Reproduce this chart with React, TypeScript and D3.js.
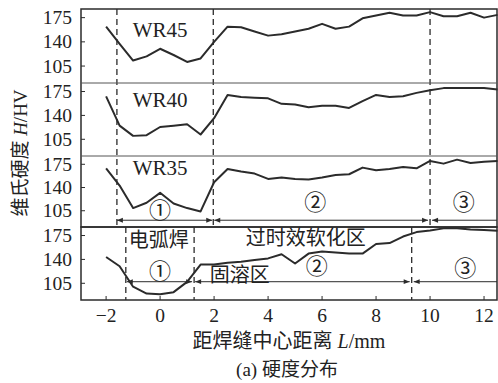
import React from 'react';
import * as d3 from 'd3';

// distance from weld centre, mm
const distance = [-2, -1.5, -1, -0.5, 0, 0.5, 1, 1.5, 2, 2.5, 3, 3.5, 4, 4.5, 5, 5.5, 6, 6.5, 7, 7.5, 8, 8.5, 9, 9.5, 10, 10.5, 11, 11.5, 12, 12.5];

// Vickers hardness, HV
const wr45 = [162, 137, 113, 119, 130, 121, 111, 116, 140, 162, 161, 155, 149, 151, 155, 159, 166, 159, 162, 174, 178, 182, 178, 178, 183, 177, 177, 182, 175, 179];
const wr40 = [168, 125, 110, 111, 123, 125, 127, 112, 136, 170, 167, 166, 165, 157, 156, 152, 154, 154, 151, 161, 170, 167, 168, 173, 177, 180, 180, 180, 180, 178];
const wr35 = [169, 143, 109, 117, 132, 116, 109, 104, 148, 168, 164, 161, 153, 155, 153, 152, 155, 159, 160, 170, 166, 168, 171, 169, 180, 176, 182, 177, 179, 180];
const arcWeld = [143.5, 130, 100, 90, 89, 92, 107, 132.5, 132.5, 135, 136.5, 139, 141.5, 147.5, 134, 148.5, 151.5, 150, 148.5, 148.5, 162.5, 164, 173.5, 180, 182.5, 185.5, 185.5, 184, 183, 182];

const seriesNames = ['WR45', 'WR40', 'WR35'];
const zoneLimitsTop = [-1.6, 1.97, 10];
const zoneLimitsBottom = [-1.27, 1.26, 9.32];

const xTicks = [-2, 0, 2, 4, 6, 8, 10, 12];
const yTicks = [105, 140, 175];

const serif = "'Liberation Serif', 'DejaVu Serif', 'Noto Sans CJK SC', serif";
const ink = '#2b2b2b';

export default function App() {
  const left = 81;
  const right = 497;
  const panels = [
    { top: 9, bottom: 83 },
    { top: 83, bottom: 156 },
    { top: 156, bottom: 227 },
    { top: 227, bottom: 300 },
  ];

  const x = d3.scaleLinear().domain([-2.93, 12.48]).range([left, right]);
  const ys = panels.map((p) => d3.scaleLinear().domain([80.5, 187.5]).range([p.bottom, p.top]));

  const all = [wr45, wr40, wr35, arcWeld];
  const paths = all.map((vals, i) =>
    d3
      .line<number>()
      .x((_, j) => x(distance[j]))
      .y((d) => ys[i](d))(vals)
  );

  const y3 = ys[2];
  const y4 = ys[3];
  const arrowY3 = y3(90.7);
  const arrowY4 = y4(107.3);

  return (
    <svg width={498} height={383} style={{ position: 'absolute', left: 0, top: 0, background: '#fff', fontFamily: serif }}>
      <defs>
        <marker id="ah" viewBox="0 0 10 10" refX="10" refY="5" markerWidth="7" markerHeight="6" orient="auto-start-reverse" markerUnits="userSpaceOnUse">
          <path d="M0,1 L10,5 L0,9 Z" fill={ink} />
        </marker>
      </defs>

      {/* curves */}
      {paths.map((d, i) => (
        <path key={i} d={d ?? ''} fill="none" stroke={ink} strokeWidth={2} strokeLinejoin="round" />
      ))}

      {/* zone boundaries */}
      {zoneLimitsTop.map((v) => (
        <line key={'t' + v} x1={x(v)} x2={x(v)} y1={panels[0].top} y2={panels[2].bottom} stroke={ink} strokeWidth={1.3} strokeDasharray="6,4" />
      ))}
      {zoneLimitsBottom.map((v) => (
        <line key={'b' + v} x1={x(v)} x2={x(v)} y1={panels[3].top} y2={panels[3].bottom} stroke={ink} strokeWidth={1.3} strokeDasharray="6,4" />
      ))}

      {/* frames */}
      <rect x={left} y={panels[0].top} width={right - left} height={panels[2].bottom - panels[0].top} fill="none" stroke={ink} strokeWidth={1.5} />
      <line x1={left} x2={right} y1={panels[1].top} y2={panels[1].top} stroke="#555" strokeWidth={1} />
      <line x1={left} x2={right} y1={panels[2].top} y2={panels[2].top} stroke="#555" strokeWidth={1} />
      <rect x={left} y={panels[3].top} width={right - left} height={panels[3].bottom - panels[3].top} fill="none" stroke={ink} strokeWidth={1.5} />

      {/* y ticks */}
      {ys.map((y, i) => (
        <g key={i}>
          {yTicks.map((t) => (
            <g key={t}>
              <line x1={left} x2={left + 4} y1={y(t)} y2={y(t)} stroke={ink} strokeWidth={1} />
              <text x={72} y={y(t)} textAnchor="end" dominantBaseline="central" fontSize={19.5} fill="#222">
                {t}
              </text>
            </g>
          ))}
        </g>
      ))}

      {/* x ticks */}
      {xTicks.map((t) => (
        <g key={t}>
          <line x1={x(t)} x2={x(t)} y1={panels[3].bottom} y2={panels[3].bottom - 4} stroke={ink} strokeWidth={1} />
          <text x={x(t)} y={322} textAnchor="middle" fontSize={19.5} fill="#222">
            {t < 0 ? '\u2212' + Math.abs(t) : t}
          </text>
        </g>
      ))}

      {/* series names */}
      {seriesNames.map((n, i) => (
        <text key={n} x={x(0)} y={ys[i]([157, 162.6, 169.4][i])} textAnchor="middle" dominantBaseline="central" fontSize={21} fill="#222">
          {n}
        </text>
      ))}

      {/* zone arrows, upper figure */}
      <line x1={x(zoneLimitsTop[0])} x2={x(zoneLimitsTop[1]) - 1} y1={arrowY3} y2={arrowY3} stroke={ink} strokeWidth={1} markerStart="url(#ah)" markerEnd="url(#ah)" />
      <line x1={x(zoneLimitsTop[1]) + 1} x2={x(zoneLimitsTop[2]) - 2} y1={arrowY3} y2={arrowY3} stroke={ink} strokeWidth={1} markerStart="url(#ah)" markerEnd="url(#ah)" />
      <line x1={x(zoneLimitsTop[2]) + 2} x2={right} y1={arrowY3} y2={arrowY3} stroke={ink} strokeWidth={1} markerStart="url(#ah)" />
      <text x={x(0)} y={y3(106)} textAnchor="middle" dominantBaseline="central" fontSize={22} fill="#222">①</text>
      <text x={x(5.75)} y={y3(118)} textAnchor="middle" dominantBaseline="central" fontSize={22} fill="#222">②</text>
      <text x={x(11.25)} y={y3(118)} textAnchor="middle" dominantBaseline="central" fontSize={22} fill="#222">③</text>

      {/* zone arrows, lower figure */}
      <line x1={x(zoneLimitsBottom[0]) + 1} x2={x(zoneLimitsBottom[1]) - 2} y1={arrowY4} y2={arrowY4} stroke={ink} strokeWidth={1} markerStart="url(#ah)" markerEnd="url(#ah)" />
      <line x1={x(zoneLimitsBottom[1]) + 1} x2={x(zoneLimitsBottom[2]) - 2} y1={arrowY4} y2={arrowY4} stroke={ink} strokeWidth={1} markerStart="url(#ah)" markerEnd="url(#ah)" />
      <line x1={x(zoneLimitsBottom[2]) + 2} x2={right} y1={arrowY4} y2={arrowY4} stroke={ink} strokeWidth={1} markerStart="url(#ah)" />
      <text x={x(0)} y={y4(122)} textAnchor="middle" dominantBaseline="central" fontSize={22} fill="#222">①</text>
      <text x={x(5.8)} y={y4(129)} textAnchor="middle" dominantBaseline="central" fontSize={22} fill="#222">②</text>
      <text x={x(11.3)} y={y4(127.4)} textAnchor="middle" dominantBaseline="central" fontSize={22} fill="#222">③</text>
      <text x={x(-0.05)} y={y4(168.4)} textAnchor="middle" dominantBaseline="central" fontSize={20} fill="#222">电弧焊</text>
      <text x={x(5.4)} y={y4(171.4)} textAnchor="middle" dominantBaseline="central" fontSize={20} fill="#222">过时效软化区</text>
      <text x={x(2.95)} y={y4(117)} textAnchor="middle" dominantBaseline="central" fontSize={20} fill="#222">固溶区</text>

      {/* axis titles */}
      <text transform="translate(27,153) rotate(-90)" textAnchor="middle" fontSize={19} fill="#222">
        维氏硬度 <tspan fontStyle="italic">H</tspan>/HV
      </text>
      <text x={289} y={348} textAnchor="middle" fontSize={20} fill="#222">
        距焊缝中心距离 <tspan fontStyle="italic">L</tspan>/mm
      </text>
      <text x={287} y={376} textAnchor="middle" fontSize={19} fill="#222">
        (a) 硬度分布
      </text>
    </svg>
  );
}
